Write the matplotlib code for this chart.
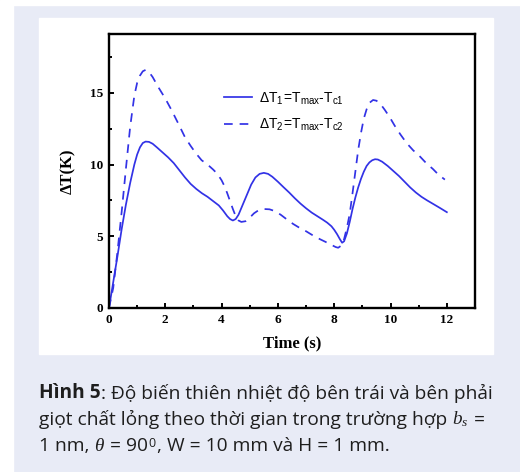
import matplotlib
matplotlib.use("Agg")
import matplotlib.pyplot as plt
from matplotlib.patches import Rectangle
from matplotlib.ticker import MultipleLocator

# du lieu doc tu hinh (ΔT1 - net lien)
t1 = [0, 0.15, 0.3, 0.45, 0.6, 0.75, 0.9, 1.0, 1.1, 1.2, 1.3, 1.42, 1.55, 1.7, 1.9,
      2.1, 2.3, 2.5, 2.7, 2.9, 3.1, 3.3, 3.5, 3.7, 3.9, 4.05, 4.2, 4.3, 4.4, 4.5,
      4.6, 4.75, 4.9, 5.05, 5.2, 5.35, 5.5, 5.65, 5.8, 6.0, 6.2, 6.4, 6.6, 6.8, 7.0,
      7.2, 7.4, 7.6, 7.75, 7.9, 8.0, 8.1, 8.2, 8.28, 8.35, 8.45, 8.55, 8.65, 8.75,
      8.85, 8.95, 9.05, 9.15, 9.25, 9.35, 9.45, 9.55, 9.7, 9.9, 10.1, 10.3, 10.5,
      10.7, 10.9, 11.1, 11.3, 11.5, 11.75, 12.0]
dT1 = [0, 1.8, 3.6, 5.5, 7.2, 8.7, 10.0, 10.7, 11.2, 11.5, 11.6, 11.58, 11.45, 11.2, 10.85,
       10.5, 10.1, 9.6, 9.1, 8.65, 8.3, 8.0, 7.75, 7.45, 7.15, 6.8, 6.4, 6.2, 6.1, 6.2,
       6.5, 7.2, 7.9, 8.6, 9.1, 9.35, 9.42, 9.35, 9.15, 8.8, 8.42, 8.05, 7.65, 7.28, 6.95,
       6.65, 6.4, 6.15, 5.95, 5.7, 5.45, 5.15, 4.8, 4.55, 4.65, 5.2, 6.0, 6.9, 7.7,
       8.4, 9.0, 9.5, 9.9, 10.15, 10.3, 10.37, 10.35, 10.2, 9.9, 9.55, 9.2, 8.8,
       8.4, 8.05, 7.75, 7.5, 7.27, 6.98, 6.68]

# ΔT2 - net dut
t2 = [0, 0.15, 0.3, 0.45, 0.6, 0.75, 0.9, 1.0, 1.1, 1.2, 1.3, 1.42, 1.55, 1.75, 2.0,
      2.22, 2.45, 2.7, 2.9, 3.1, 3.29, 3.5, 3.7, 3.85, 4.0, 4.1, 4.2, 4.3, 4.4, 4.5,
      4.6, 4.7, 4.85, 5.0, 5.15, 5.3, 5.5, 5.7, 5.9, 6.1, 6.3, 6.54, 6.8, 7.0, 7.25,
      7.49, 7.7, 7.9, 8.05, 8.14, 8.25, 8.35, 8.45, 8.55, 8.65, 8.75, 8.85, 8.95,
      9.05, 9.15, 9.25, 9.38, 9.5, 9.65, 9.8, 9.97, 10.15, 10.35, 10.57, 10.8, 11.05,
      11.28, 11.5, 11.7, 11.93]
dT2 = [0, 1.4, 3.9, 6.7, 9.7, 12.6, 14.8, 15.7, 16.2, 16.5, 16.6, 16.45, 16.1, 15.4, 14.6,
       13.8, 12.9, 11.9, 11.3, 10.75, 10.3, 10.0, 9.65, 9.35, 8.9, 8.5, 8.0, 7.45, 6.9, 6.4,
       6.1, 6.0, 6.05, 6.3, 6.6, 6.8, 6.9, 6.88, 6.75, 6.5, 6.2, 5.86, 5.55, 5.35, 5.05,
       4.8, 4.6, 4.4, 4.25, 4.2, 4.35, 4.8, 5.6, 6.56, 8.0, 9.5, 11.0, 12.2,
       13.2, 13.85, 14.3, 14.5, 14.45, 14.2, 13.8, 13.3, 12.7, 12.1, 11.5, 11.0, 10.55,
       10.07, 9.7, 9.3, 8.95]

label1 = r'$\mathrm{\Delta T_1\!=\!T_{max}\text{-}T_{c1}}$'
label2 = r'$\mathrm{\Delta T_2\!=\!T_{max}\text{-}T_{c2}}$'

plt.rcParams['mathtext.fontset'] = 'custom'
plt.rcParams['mathtext.rm'] = 'Liberation Sans'
plt.rcParams['mathtext.it'] = 'Liberation Serif:italic'

W, H = 520, 472
fig = plt.figure(figsize=(5.2, 4.72), dpi=100)
fig.patch.set_facecolor('#e8ebf6')
# vien trang ben trai va tren, khung trang cua hinh
fig.patches.append(Rectangle((0, 0), 13 / W, 1, transform=fig.transFigure, color='white', zorder=0))
fig.patches.append(Rectangle((0, 1 - 5 / H), 1, 5 / H, transform=fig.transFigure, color='white', zorder=0))
fig.patches.append(Rectangle((39 / W, 1 - 354 / H), 454 / W, 336 / H,
                             transform=fig.transFigure, color='white', zorder=0))

ax = fig.add_axes([109 / W, 1 - 308 / H, 366 / W, 274 / H])
ax.set_zorder(2)
ax.set_facecolor('white')
blue = '#3232e6'
ax.plot(t1, dT1, color=blue, lw=1.25, label=label1)
ax.plot(t2, dT2, color=blue, lw=1.25, ls=(0, (5, 4)), label=label2)

ax.set_xlim(0, 13)
ax.set_ylim(0, 19.1)
ax.xaxis.set_major_locator(MultipleLocator(2))
ax.xaxis.set_minor_locator(MultipleLocator(1))
ax.yaxis.set_major_locator(MultipleLocator(5))
ax.yaxis.set_minor_locator(MultipleLocator(2.5))
ax.tick_params(which='both', direction='in', top=False, right=False, width=1.4)
ax.tick_params(which='major', length=3.5, pad=4)
ax.tick_params(which='minor', length=2)
for lab in ax.get_xticklabels() + ax.get_yticklabels():
    lab.set_fontfamily('Liberation Serif')
    lab.set_fontweight('bold')
    lab.set_fontsize(9.5)
for s in ax.spines.values():
    s.set_linewidth(1.7)

ax.set_xlabel('Time (s)', family='Liberation Serif', weight='bold', fontsize=12, labelpad=7)
ax.set_ylabel('ΔT(K)', family='Liberation Serif', weight='bold', fontsize=12, labelpad=10)

ax.legend(loc='upper left', bbox_to_anchor=(0.28, 0.84), frameon=False, fontsize=10,
          handlelength=2.0, handletextpad=0.5, labelspacing=0.7)

# chu thich hinh
cfs = 13.8
cap = dict(family=['Open Sans', 'DejaVu Sans'], fontsize=cfs, color='#1e1e1e')
x0 = 39 / W

l1 = fig.text(x0, 1 - 403 / H, 'Hình 5', weight='bold', va='bottom', **cap)
ax.annotate(': Độ biến thiên nhiệt độ bên trái và bên phải', xy=(1, 0), xycoords=l1,
            va='bottom', annotation_clip=False, **cap)

l2 = fig.text(x0, 1 - 429 / H, 'giọt chất lỏng theo thời gian trong trường hợp ', va='bottom', **cap)
b = ax.annotate('$b_s$', xy=(1, 0), xycoords=l2, va='bottom', annotation_clip=False,
                fontsize=cfs, color='#1e1e1e')
ax.annotate(' =', xy=(1, 0), xycoords=b, va='bottom', annotation_clip=False, **cap)

l3 = fig.text(x0, 1 - 455 / H, '1 nm, ', va='bottom', **cap)
th = ax.annotate('$\\theta$', xy=(1, 0), xycoords=l3, va='bottom', annotation_clip=False,
                 fontsize=cfs, color='#1e1e1e')
n90 = ax.annotate(' = 90', xy=(1, 0), xycoords=th, va='bottom', annotation_clip=False, **cap)
ax.annotate('0', xy=(1, 1), xycoords=n90, va='top', annotation_clip=False,
            family=['Open Sans', 'DejaVu Sans'], fontsize=9, color='#1e1e1e')
ax.annotate(', W = 10 mm và H = 1 mm.', xy=(1, 0), xycoords=n90, xytext=(6, 0),
            textcoords='offset points', va='bottom', annotation_clip=False, **cap)

fig.savefig('out.png', dpi=100, facecolor=fig.get_facecolor())
